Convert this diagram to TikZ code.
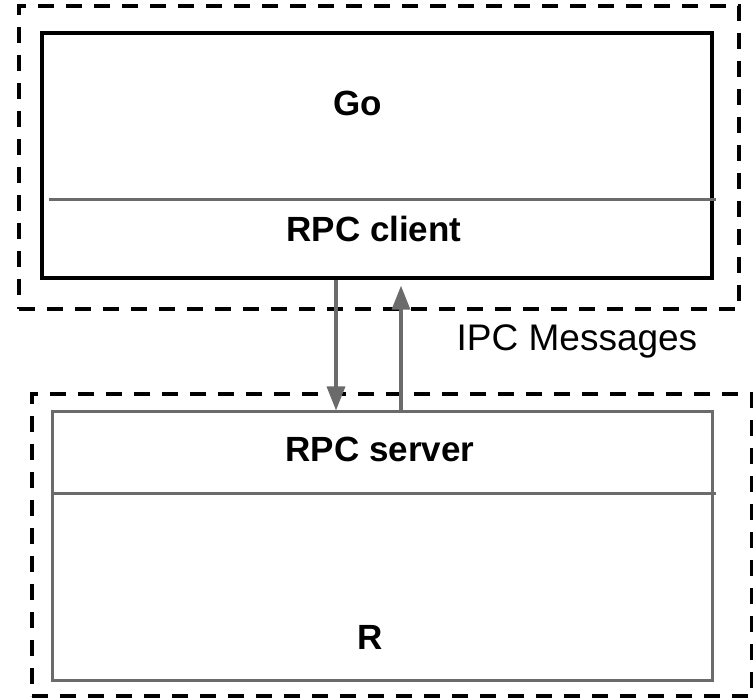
\documentclass[tikz,border=0pt]{standalone}
\usepackage{fontspec}
\setmainfont{Liberation Sans}
\usepackage{tikz}
\usetikzlibrary{positioning,arrows.meta}
\tikzset{host box/.style={draw=black,line width=3.5pt,dash pattern=on 16pt off 12pt,minimum width=720pt,inner sep=0pt},
         go box/.style={draw=black,line width=3.3pt,minimum width=670pt,minimum height=245pt,inner sep=0pt},
         r box/.style={draw=black!58,line width=3pt,minimum width=660pt,minimum height=268pt,inner sep=0pt},
         layer line/.style={draw=black!58,line width=3pt},
         layer label/.style={anchor=base,font=\fontsize{35}{42}\selectfont\bfseries},
         msg/.style={draw=black!58,line width=3.2pt,-{Triangle[length=24pt,width=18pt]}},
            }

\begin{document}
\begin{tikzpicture}[x=1pt,y=-1pt]
    \useasboundingbox (0,0) rectangle (753,700);

    \node[host box,minimum height=303pt] (gohost) at (379,157.5) {};
    \node[host box,minimum height=302pt] (rhost) at (392,545) {};

    \node[go box] (gobox) at (377,155.5) {};
    \node[r box] (rbox) at (382,546) {};

    \coordinate (goleft) at (49,200);
    \coordinate (goright) at (716,200);
    \coordinate (rleft) at (52,494);
    \coordinate (rright) at (716,494);
    \path[layer line] (goleft) -- (goright);
    \path[layer line] (rleft) -- (rright);

    \node[layer label] (go) at (358,116) {Go};
    \node[layer label] (client) at (374,242) {RPC client};
    \node[layer label] (server) at (380,462) {RPC server};
    \node[layer label] (r) at (370,649) {R};

    \path[msg] (gobox.south -| 336,0) -- (rbox.north -| 336,0);
    \path[msg] (rbox.north -| 401,0) -- ([yshift=-6pt]gobox.south -| 401,0);

    \node[anchor=base,font=\fontsize{37}{44}\selectfont] (ipc) at (577,351) {IPC Messages};
\end{tikzpicture}
\end{document}
